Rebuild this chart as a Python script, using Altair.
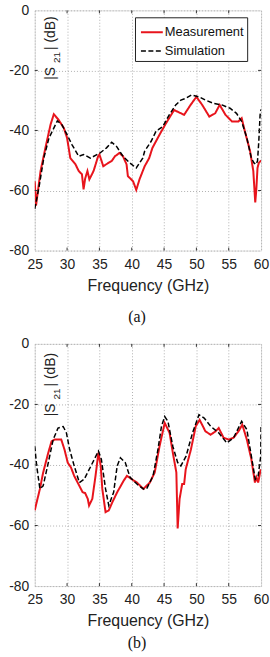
import altair as alt
import pandas as pd

# ---------------- data ----------------
meas_a_f = [25.0, 25.2, 25.9, 26.7, 27.45, 27.95, 28.7, 29.5, 30.0, 30.5, 31.3, 31.8, 32.3, 32.55, 32.8,
            33.15, 33.45, 34.1, 34.8, 35.0, 35.6, 36.4, 36.9, 37.4, 38.1, 38.65, 39.2, 39.4, 40.2, 40.7,
            41.2, 42.0, 42.7, 43.2, 44.3, 45.3, 46.55, 48.1, 49.1, 50.0, 50.9, 52.0, 52.9, 53.6, 54.5,
            55.5, 56.5, 57.0, 57.5, 58.3, 58.8, 59.1, 59.25, 59.45, 59.65, 60.0]
meas_a_db = [-56.9, -65.0, -53.5, -45.3, -38.0, -34.6, -36.5, -39.2, -42.5, -49.2, -51.3, -53.5, -54.6, -59.6, -56.0,
             -53.5, -56.3, -53.5, -48.6, -48.0, -51.9, -50.8, -50.2, -48.6, -47.5, -48.6, -51.3, -55.2, -56.9, -59.8,
             -56.3, -51.9, -49.2, -45.8, -41.4, -37.6, -33.2, -34.8, -31.5, -28.8, -31.5, -35.4, -34.3, -31.5, -34.8,
             -37.0, -37.0, -35.9, -40.3, -46.9, -53.5, -64.0, -60.2, -52.5, -50.8, -50.0]

sim_a_f = [25.0, 25.65, 26.4, 27.2, 28.5, 29.2, 30.0, 30.75, 31.8, 32.55, 33.6, 35.1, 36.1, 36.9, 37.65,
           38.65, 39.7, 40.7, 41.7, 42.0, 43.0, 43.75, 44.8, 45.8, 46.8, 47.6, 48.35, 49.25, 50.4, 51.4,
           52.7, 53.95, 55.2, 56.2, 57.0, 57.8, 58.5, 58.9, 59.2, 59.45, 59.65, 59.85, 60.0]
sim_a_db = [-66.1, -59.0, -49.2, -42.5, -36.8, -38.1, -41.4, -44.7, -48.6, -48.0, -49.2, -47.5, -45.8, -43.9, -45.3,
            -48.6, -50.8, -52.5, -49.2, -46.9, -43.6, -40.3, -38.7, -34.8, -31.5, -29.9, -29.3, -28.2, -28.8, -29.9,
            -31.0, -31.5, -32.6, -34.3, -37.0, -42.5, -49.2, -50.8, -51.3, -50.2, -43.6, -34.8, -33.0]

meas_b_f = [25.0, 25.3, 25.8, 26.3, 27.1, 27.6, 28.1, 29.1, 29.6, 30.1, 30.6, 31.1, 31.9, 32.4, 32.8,
            33.2, 33.4, 33.9, 34.4, 34.85, 35.2, 35.45, 35.95, 36.45, 37.0, 37.75, 38.75, 39.25, 40.0, 40.8,
            41.8, 42.8, 43.55, 44.3, 45.1, 45.85, 46.35, 46.9, 47.1, 47.4, 47.8, 48.1, 48.35, 49.15, 49.9,
            50.5, 51.4, 52.2, 52.95, 53.45, 54.2, 55.0, 55.75, 56.5, 57.1, 57.8, 58.5, 59.05, 59.3, 59.55, 59.95]
meas_b_db = [-55.0, -52.3, -47.9, -42.5, -35.9, -32.2, -31.6, -31.6, -34.9, -39.2, -40.8, -43.6, -46.9, -49.0, -49.3,
             -51.2, -53.4, -51.2, -43.6, -35.9, -40.3, -47.9, -55.6, -55.0, -52.3, -49.0, -45.2, -43.6, -44.7, -45.8,
             -47.9, -45.8, -42.5, -33.8, -26.1, -29.4, -35.9, -42.5, -61.0, -51.2, -46.3, -46.3, -41.4, -34.9, -27.2,
             -25.1, -28.9, -30.0, -28.9, -27.8, -31.0, -31.6, -31.0, -28.9, -26.7, -31.6, -38.1, -45.8, -44.1, -45.8, -41.4]

sim_b_f = [25.0, 25.3, 25.8, 26.3, 27.1, 27.85, 28.6, 29.4, 29.9, 30.4, 31.1, 31.9, 32.65, 33.7, 34.85,
           35.3, 35.95, 36.45, 37.2, 37.75, 38.25, 39.0, 39.75, 40.8, 41.8, 42.3, 43.3, 44.05, 44.6, 45.1,
           45.6, 46.35, 47.1, 47.6, 48.4, 49.4, 50.4, 51.2, 52.2, 53.45, 54.7, 55.75, 57.0, 57.8, 58.5,
           59.1, 59.55, 59.95, 60.0]
sim_b_db = [-33.8, -40.3, -47.9, -46.9, -39.2, -31.6, -27.8, -27.3, -29.4, -34.9, -40.3, -45.8, -44.7, -40.3, -35.4,
            -38.1, -47.9, -53.4, -49.0, -40.3, -37.6, -39.2, -44.1, -46.3, -47.9, -47.9, -43.6, -34.9, -27.2, -24.0,
            -25.6, -33.8, -39.2, -40.3, -37.1, -29.4, -23.4, -24.5, -27.2, -29.4, -32.7, -31.0, -25.6, -28.3, -37.1,
            -44.7, -43.6, -37.1, -27.0]

series_names = ["Measurement", "Simulation"]
series_colors = ["#e8141c", "#000000"]
series_dash = [[1, 0], [5, 2.5]]
series_width = [2.0, 1.5]

x_ticks = [25, 30, 35, 40, 45, 50, 55, 60]
y_ticks = [-80, -60, -40, -20, 0]
captions = ["(a)", "(b)"]

W = 228
FONT = "Liberation Sans"


def make_panel(mf, md, sf, sd, caption, cap_offset, H, legend_y, label_dy):
    df = pd.concat([
        pd.DataFrame({"f": mf, "db": md, "series": series_names[0]}),
        pd.DataFrame({"f": sf, "db": sd, "series": series_names[1]}),
    ])
    leg = alt.Legend(title=None, orient="none", legendX=101, legendY=legend_y,
                     symbolType="stroke", symbolSize=484, labelFontSize=13,
                     labelFont=FONT, labelColor="#111", fillColor="white",
                     strokeColor="#222", padding=3, rowPadding=-5, labelOffset=1,
                     symbolOffset=2)
    xscale = alt.Scale(domain=[25, 60], nice=False, zero=False)
    yscale = alt.Scale(domain=[-80, 0], nice=False)
    xaxis = alt.Axis(values=x_ticks, title="Frequency (GHz)", labelFontSize=14,
                     titleFontSize=16, titleFontWeight="normal", labelFont=FONT,
                     titleFont=FONT, labelColor="#222", titleColor="#222",
                     grid=True, gridDash=[1, 2], gridColor="#b0b0b0",
                     ticks=False, domain=False, labelPadding=7, titlePadding=6,
                     labelFlush=False, labelOverlap=False)
    yaxis = alt.Axis(values=y_ticks, title=None, labelFontSize=14, labelFont=FONT,
                     labelColor="#222", grid=True, gridDash=[1, 2],
                     gridColor="#b0b0b0", ticks=False, domain=False,
                     labelPadding=6, labelFlush=False, labelOverlap=False,
                     labelExpr="'' + datum.value", minExtent=34, maxExtent=34)
    lines = alt.Chart(df).mark_line(clip=True).encode(
        x=alt.X("f:Q", scale=xscale, axis=xaxis),
        y=alt.Y("db:Q", scale=yscale, axis=yaxis),
        color=alt.Color("series:N", scale=alt.Scale(domain=series_names, range=series_colors), legend=leg),
        strokeDash=alt.StrokeDash("series:N", scale=alt.Scale(domain=series_names, range=series_dash), legend=leg),
        strokeWidth=alt.StrokeWidth("series:N", scale=alt.Scale(domain=series_names, range=series_width), legend=leg),
    )
    # inside tick marks (MATLAB style)
    xt = pd.DataFrame({"f": x_ticks[1:-1]})
    yt = pd.DataFrame({"db": y_ticks[1:-1]})
    tick_style = dict(color="#333", strokeWidth=1)
    xt_bot = alt.Chart(xt).mark_rule(**tick_style).encode(
        x=alt.X("f:Q", scale=xscale, axis=xaxis), y=alt.value(H - 3), y2=alt.value(H))
    xt_top = alt.Chart(xt).mark_rule(**tick_style).encode(
        x=alt.X("f:Q", scale=xscale, axis=xaxis), y=alt.value(0), y2=alt.value(3))
    yt_l = alt.Chart(yt).mark_rule(**tick_style).encode(
        y=alt.Y("db:Q", scale=yscale, axis=yaxis), x=alt.value(0), x2=alt.value(3))
    yt_r = alt.Chart(yt).mark_rule(**tick_style).encode(
        y=alt.Y("db:Q", scale=yscale, axis=yaxis), x=alt.value(W - 3), x2=alt.value(W))

    # y label |S21| (dB) with subscript, inside the plot
    lab_base = dict(angle=270, align="left", baseline="middle", font=FONT, color="#222")
    t1 = alt.Chart(pd.DataFrame({"t": ["|S"]})).mark_text(fontSize=14, **lab_base).encode(
        text="t:N", x=alt.value(16), y=alt.value(70 + label_dy))
    t2 = alt.Chart(pd.DataFrame({"t": ["21"]})).mark_text(fontSize=10, **lab_base).encode(
        text="t:N", x=alt.value(22), y=alt.value(53 + label_dy))
    t3 = alt.Chart(pd.DataFrame({"t": ["| (dB)"]})).mark_text(fontSize=14, **lab_base).encode(
        text="t:N", x=alt.value(16), y=alt.value(40 + label_dy))

    return alt.layer(lines, xt_bot, xt_top, yt_l, yt_r, t1, t2, t3).properties(
        width=W, height=H,
        title=alt.TitleParams(caption, orient="bottom", font="Liberation Serif", fontSize=16,
                              fontWeight="normal", color="#111", dx=-11, offset=cap_offset,
                              anchor="middle"))


panel_a = make_panel(meas_a_f, meas_a_db, sim_a_f, sim_a_db, captions[0], 16, 242, 7, 0)
panel_b = make_panel(meas_b_f, meas_b_db, sim_b_f, sim_b_db, captions[1], 6, 244, 9, 3)

chart = alt.vconcat(panel_a, panel_b, spacing=10).properties(
    padding={"left": 0, "top": 0, "right": 0, "bottom": 0}
).configure_view(stroke="#444", strokeWidth=1.5).configure(background="white")

chart.save("out.html", embed_options={"renderer": "svg", "actions": False})
